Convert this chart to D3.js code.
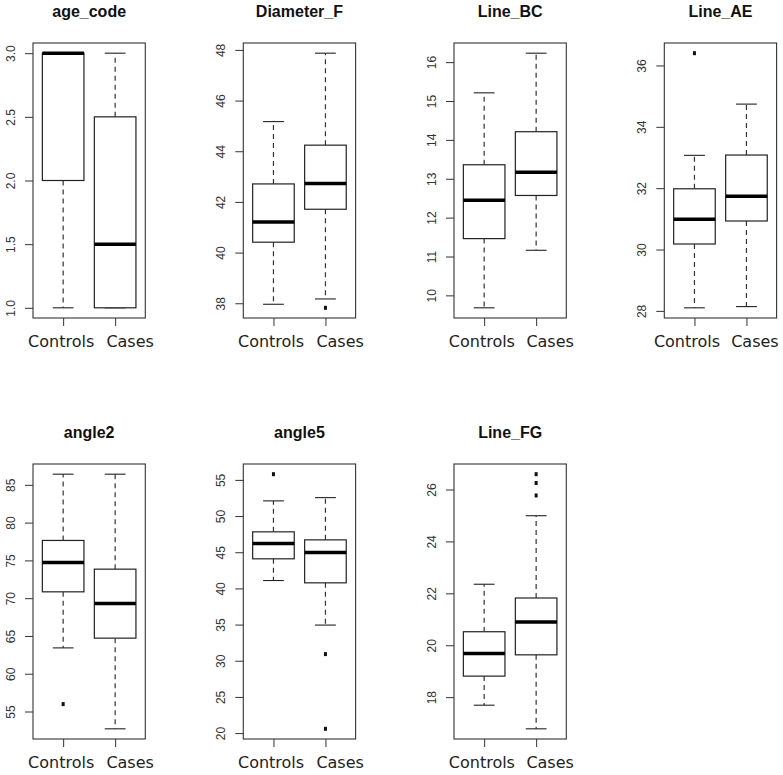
<!DOCTYPE html>
<html>
<head>
<meta charset="utf-8">
<script src="https://cdn.jsdelivr.net/npm/d3@7"></script>
<style>
html,body{margin:0;padding:0;background:#fff;}
svg{display:block;}
</style>
</head>
<body>
<svg id="chart" width="783" height="775"></svg>
<script>
// ---- data ----
const panelTitles = ["age_code","Diameter_F","Line_BC","Line_AE","angle2","angle5","Line_FG"];
const groups = ["Controls","Cases"];
// [lower whisker, Q1, median, Q3, upper whisker]
const controlsStats = [
  [1.0, 2.0, 3.0, 3.0, 3.0],
  [37.96, 40.41, 41.21, 42.71, 45.17],
  [9.68, 11.46, 12.45, 13.36, 15.21],
  [28.10, 30.18, 30.99, 31.98, 33.07],
  [63.42, 70.84, 74.73, 77.64, 86.41],
  [41.09, 44.09, 46.20, 47.82, 52.10],
  [17.69, 18.81, 19.68, 20.52, 22.35]
];
const casesStats = [
  [1.0, 1.0, 1.5, 2.5, 3.0],
  [38.17, 41.71, 42.73, 44.24, 47.87],
  [11.16, 12.57, 13.17, 14.21, 16.23],
  [28.14, 30.93, 31.74, 33.08, 34.74],
  [52.71, 64.71, 69.29, 73.84, 86.41],
  [34.93, 40.77, 44.95, 46.71, 52.55],
  [16.78, 19.63, 20.90, 21.82, 24.99]
];
const controlsOutliers = [[], [], [], [36.40], [55.98], [55.79], []];
const casesOutliers = [[], [37.82], [], [], [], [30.92, 20.59], [26.59, 26.25, 25.77]];
const yTickValues = [
  [1.0, 1.5, 2.0, 2.5, 3.0],
  [38, 40, 42, 44, 46, 48],
  [10, 11, 12, 13, 14, 15, 16],
  [28, 30, 32, 34, 36],
  [55, 60, 65, 70, 75, 80, 85],
  [20, 25, 30, 35, 40, 45, 50, 55],
  [18, 20, 22, 24, 26]
];
const yTickLabels = [
  ["1.0","1.5","2.0","2.5","3.0"],
  ["38","40","42","44","46","48"],
  ["10","11","12","13","14","15","16"],
  ["28","30","32","34","36"],
  ["55","60","65","70","75","80","85"],
  ["20","25","30","35","40","45","50","55"],
  ["18","20","22","24","26"]
];

// ---- layout ----
const colLeft = [33, 243.3, 454, 664.3];
const rowTop = [43, 464];
const plotW = 112.3, plotH = 275;
const labelShift = [[-2, 15], [-2.4, 14.7], [-2.3, 14], [-7.5, 8.5]];

const svg = d3.select("#chart");
svg.append("rect").attr("width",783).attr("height",775).attr("fill","#fff");

panelTitles.forEach((title, i) => {
  const col = i % 4, row = Math.floor(i / 4);
  const x0 = colLeft[col], y0 = rowTop[row];
  const g = svg.append("g").attr("transform", `translate(${x0},${y0})`);

  const allVals = controlsStats[i].concat(casesStats[i], controlsOutliers[i], casesOutliers[i]);
  const mn = d3.min(allVals), mx = d3.max(allVals), ext = (mx - mn) * 0.04;
  const y = d3.scaleLinear().domain([mn - ext, mx + ext]).range([plotH, 0]);
  // R boxplot x range: 0.5..2.5 extended by 4%
  const x = d3.scaleLinear().domain([0.42, 2.58]).range([0, plotW]);
  const bw = x(1.8) - x(1.0);

  // frame
  g.append("rect").attr("x",0).attr("y",0).attr("width",plotW).attr("height",plotH)
    .attr("fill","none").attr("stroke","#333").attr("stroke-width",1.1);

  // y axis
  const yAxis = d3.axisLeft(y).tickValues(yTickValues[i])
    .tickFormat((d, k) => yTickLabels[i][k]).tickSize(8).tickPadding(0);
  const ya = g.append("g").call(yAxis);
  ya.select(".domain").remove();
  ya.selectAll(".tick line").attr("stroke","#333").attr("stroke-width",1);
  ya.selectAll(".tick text")
    .attr("x", 0).attr("y", 0).attr("dy", null)
    .attr("transform", "translate(-18,0) rotate(-90)")
    .attr("text-anchor","middle")
    .attr("font-family","'Liberation Sans', Arial, sans-serif")
    .attr("font-size", 12).attr("fill","#333");

  // x axis
  const xAxis = d3.axisBottom(x).tickValues([1,2]).tickFormat("").tickSize(8);
  const xa = g.append("g").attr("transform", `translate(0,${plotH})`).call(xAxis);
  xa.select(".domain").remove();
  xa.selectAll(".tick line").attr("stroke","#333").attr("stroke-width",1);
  groups.forEach((name, k) => {
    g.append("text").attr("x", x(k + 1) + labelShift[col][k]).attr("y", plotH + 29)
      .attr("text-anchor","middle")
      .attr("font-family","'DejaVu Sans', sans-serif")
      .attr("font-size", 16).attr("fill","#222").text(name);
  });

  // title
  g.append("text").attr("x", plotW / 2).attr("y", 16.7 - 43)
    .attr("text-anchor","middle")
    .attr("font-family","'Liberation Sans', Arial, sans-serif")
    .attr("font-weight","bold").attr("font-size",16).attr("fill","#111")
    .text(title);

  // boxes
  const stats = [controlsStats[i], casesStats[i]];
  const outs = [controlsOutliers[i], casesOutliers[i]];
  stats.forEach((s, k) => {
    const cx = x(k + 1);
    const [lo, q1, med, q3, hi] = s;
    // whiskers (dashed)
    if (Math.abs(y(q1) - y(lo)) > 0.5)
      g.append("line").attr("x1",cx).attr("x2",cx).attr("y1",y(q1)).attr("y2",y(lo))
        .attr("stroke","#333").attr("stroke-width",1.2).attr("stroke-dasharray","5,4");
    if (Math.abs(y(hi) - y(q3)) > 0.5)
      g.append("line").attr("x1",cx).attr("x2",cx).attr("y1",y(q3)).attr("y2",y(hi))
        .attr("stroke","#333").attr("stroke-width",1.2).attr("stroke-dasharray","5,4");
    // staples
    [lo, hi].forEach(v => {
      g.append("line").attr("x1",cx - bw/4).attr("x2",cx + bw/4).attr("y1",y(v)).attr("y2",y(v))
        .attr("stroke","#222").attr("stroke-width",1.1);
    });
    // box
    g.append("rect").attr("x",cx - bw/2).attr("y",y(q3)).attr("width",bw)
      .attr("height",Math.max(0, y(q1) - y(q3)))
      .attr("fill","#fff").attr("stroke","#222").attr("stroke-width",1.2);
    // median
    g.append("line").attr("x1",cx - bw/2).attr("x2",cx + bw/2).attr("y1",y(med)).attr("y2",y(med))
      .attr("stroke","#000").attr("stroke-width",3.5);
    // outliers
    outs[k].forEach(v => {
      g.append("rect").attr("x",cx - 1.5).attr("y",y(v) - 2).attr("width",3).attr("height",4)
        .attr("fill","#111");
    });
  });
});
</script>
</body>
</html>
